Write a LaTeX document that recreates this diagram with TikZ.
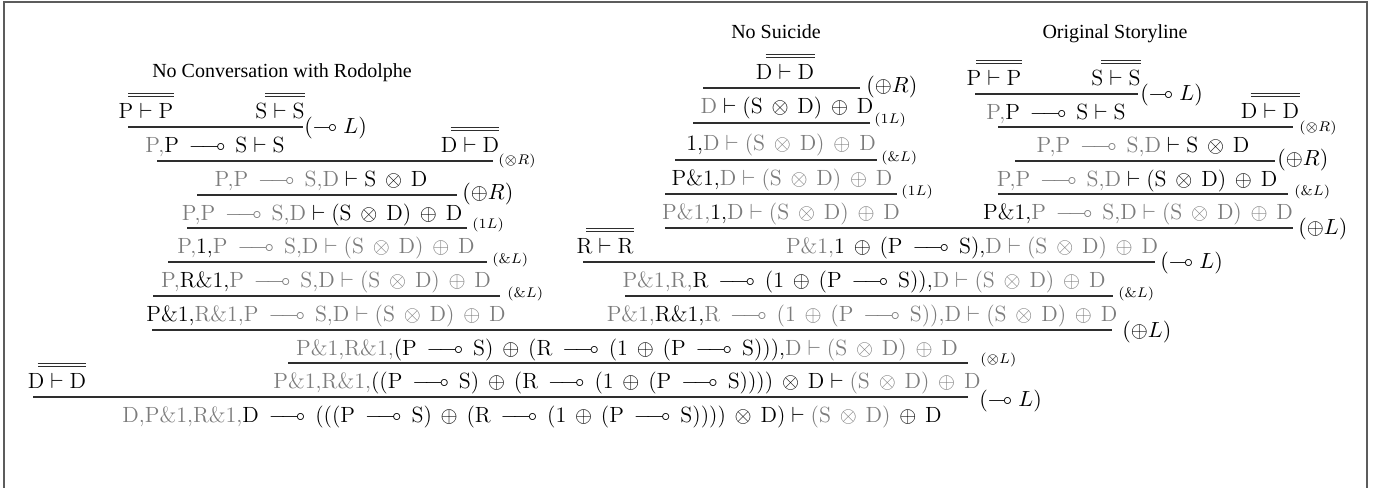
\documentclass[tikz,border=0pt]{standalone}
\usepackage{amsmath,amssymb}
\usepackage{fontspec}
\newfontfamily\titlefont{Liberation Serif}
\usepackage{tikz}
\usetikzlibrary{positioning}
\definecolor{seqgray}{HTML}{7C7C7C}
\definecolor{framegray}{HTML}{5C5C5C}
\definecolor{bardark}{HTML}{2E2E2E}
\newcommand{\fd}[1]{\textcolor{seqgray}{#1}}
% connectives with the spacing of the picture
\newcommand{\lolli}{\hspace{0.45em}$\mathrel{\relbar\mkern-4mu\multimap}$\hspace{0.45em}}
\newcommand{\tensor}{\hspace{0.4em}$\otimes$\hspace{0.4em}}
\newcommand{\oplusop}{\hspace{0.4em}$\oplus$\hspace{0.4em}}
\newcommand{\entails}{\hspace{0.27em}$\vdash$\hspace{0.27em}}
\tikzset{
	seq/.style={anchor=base, inner sep=0pt, font=\fontsize{11}{13}\selectfont},
	rname/.style={anchor=west, inner sep=0pt, font=\fontsize{11}{13}\selectfont},
	rsmall/.style={anchor=west, inner sep=0pt, font=\scriptsize},
	infer/.style={draw=bardark, line width=0.7pt},
	axbar/.style={draw=bardark, double=white, line width=0.4pt, double distance=1.1pt},
	title/.style={anchor=base, inner sep=0pt, font=\titlefont}
}

\begin{document}
\begin{tikzpicture}[x=0.5pt, y=-0.5pt]
	\useasboundingbox (0,0) rectangle (1379,487);
	% frame
	\draw[framegray, line width=1pt] (4,500) -- (4,1.5) -- (1367,1.5) -- (1367,500);
	% titles
	\node[title] (tconv) at (282,77) {No Conversation with Rodolphe};
	\node[title] (tsuic) at (776,38) {No Suicide};
	\node[title] (torig) at (1115,38) {Original Storyline};

	% left tree: no conversation
	\node[seq] (lpp) at (146,118) {P\entails P};
	\node[seq] (lss) at (280,118) {S\entails S};
	\draw[axbar] ([xshift=5pt,yshift=11.5pt]lpp.base west) -- ([yshift=11.5pt]lpp.base east);
	\draw[axbar] ([xshift=5pt,yshift=11.5pt]lss.base west) -- ([yshift=11.5pt]lss.base east);
	\draw[infer] (128,127) -- (303,127);
	\node[rname] (lr1) at (304,128) {$(\multimap L)$};
	\node[seq] (lpps) at (215,152) {\fd{P,}P\lolli S\entails S};
	\node[seq] (ldd) at (470,152) {D\entails D};
	\draw[axbar] ([xshift=5pt,yshift=11.5pt]ldd.base west) -- ([yshift=11.5pt]ldd.base east);
	\draw[infer] (157,161) -- (493,161);
	\node[rsmall] (lr2) at (498,161) {$(\otimes R)$};
	\node[seq] (l3) at (321,186) {\fd{P,P\lolli S,D}\entails S\tensor D};
	\draw[infer] (197,195) -- (457,195);
	\node[rname] (lr3) at (462,194) {$(\oplus R)$};
	\node[seq] (l4) at (322,220) {\fd{P,P\lolli S,D}\entails (S\tensor D)\oplusop D};
	\draw[infer] (187,228) -- (467,228);
	\node[rsmall] (lr4) at (472,225) {$(1 L)$};
	\node[seq] (l5) at (326,253) {\fd{P,}1,\fd{P\lolli S,D\entails (S\tensor D)\oplusop D}};
	\draw[infer] (168,262) -- (487,262);
	\node[rsmall] (lr5) at (492,260) {$(\& L)$};
	\node[seq] (l6) at (326,287) {\fd{P,}R\&1,\fd{P\lolli S,D\entails (S\tensor D)\oplusop D}};
	\draw[infer] (153,296) -- (500,296);
	\node[rsmall] (lr6) at (507,294) {$(\& L)$};
	\node[seq] (l7) at (326,321) {P\&1,\fd{R\&1,P\lolli S,D\entails (S\tensor D)\oplusop D}};

	% middle tree: no suicide
	\node[seq] (mdd) at (785,79) {D\entails D};
	\draw[axbar] ([xshift=5pt,yshift=11.5pt]mdd.base west) -- ([yshift=11.5pt]mdd.base east);
	\draw[infer] (703,88) -- (860,88);
	\node[rname] (mr1) at (866,87) {$(\oplus R)$};
	\node[seq] (m2) at (787,113) {\fd{D}\entails (S\tensor D)\oplusop D};
	\draw[infer] (693,123) -- (870,123);
	\node[rsmall] (mr2) at (874,120) {$(1 L)$};
	\node[seq] (m3) at (781,150) {1,\fd{D\entails (S\tensor D)\oplusop D}};
	\draw[infer] (675,160) -- (877,160);
	\node[rsmall] (mr3) at (881,158) {$(\& L)$};
	\node[seq] (m4) at (782,185) {P\&1,\fd{D\entails (S\tensor D)\oplusop D}};
	\draw[infer] (665,194) -- (897,194);
	\node[rsmall] (mr4) at (901,192) {$(1 L)$};
	\node[seq] (m5) at (781,219) {\fd{P\&1,}1,\fd{D\entails (S\tensor D)\oplusop D}};

	% right tree: original storyline
	\node[seq] (rpp) at (994,85) {P\entails P};
	\node[seq] (rss) at (1116,85) {S\entails S};
	\draw[axbar] ([xshift=5pt,yshift=11.5pt]rpp.base west) -- ([yshift=11.5pt]rpp.base east);
	\draw[axbar] ([xshift=5pt,yshift=11.5pt]rss.base west) -- ([yshift=11.5pt]rss.base east);
	\draw[infer] (975,94) -- (1138,94);
	\node[rname] (rr1) at (1140,95) {$(\multimap L)$};
	\node[seq] (rpps) at (1056,119) {\fd{P,}P\lolli S\entails S};
	\node[seq] (rdd) at (1270,118) {D\entails D};
	\draw[axbar] ([xshift=5pt,yshift=11.5pt]rdd.base west) -- ([yshift=11.5pt]rdd.base east);
	\draw[infer] (998,127) -- (1293,127);
	\node[rsmall] (rr2) at (1299,128) {$(\otimes R)$};
	\node[seq] (r3) at (1143,152) {\fd{P,P\lolli S,D}\entails S\tensor D};
	\draw[infer] (1015,161) -- (1275,161);
	\node[rname] (rr3) at (1277,160) {$(\oplus R)$};
	\node[seq] (r4) at (1137,186) {\fd{P,P\lolli S,D}\entails (S\tensor D)\oplusop D};
	\draw[infer] (998,194) -- (1288,194);
	\node[rsmall] (rr4) at (1294,192) {$(\& L)$};
	\node[seq] (r5) at (1138,219) {P\&1,\fd{P\lolli S,D\entails (S\tensor D)\oplusop D}};

	% joining the two right trees
	\draw[infer] (665,228) -- (1293,228);
	\node[rname] (cr1) at (1298,229) {$(\oplus L)$};
	\node[seq] (rr) at (605,253) {R\entails R};
	\draw[axbar] ([xshift=5pt,yshift=11.5pt]rr.base west) -- ([yshift=11.5pt]rr.base east);
	\node[seq] (c1) at (972,253) {\fd{P\&1,}1\oplusop (P\lolli S),\fd{D\entails (S\tensor D)\oplusop D}};
	\draw[infer] (583,262) -- (1155,262);
	\node[rname] (cr2) at (1160,263) {$(\multimap L)$};
	\node[seq] (c2) at (864,287) {\fd{P\&1,R,}R\lolli (1\oplusop (P\lolli S)),\fd{D\entails (S\tensor D)\oplusop D}};
	\draw[infer] (625,296) -- (1113,296);
	\node[rsmall] (cr3) at (1118,294) {$(\& L)$};
	\node[seq] (c3) at (862,321) {\fd{P\&1,}R\&1,\fd{R\lolli (1\oplusop (P\lolli S)),D\entails (S\tensor D)\oplusop D}};

	% joining everything
	\draw[infer] (152,330) -- (1112,330);
	\node[rname] (br1) at (1122,332) {$(\oplus L)$};
	\node[seq] (b1) at (627,355) {\fd{P\&1,R\&1,}(P\lolli S)\oplusop (R\lolli (1\oplusop (P\lolli S))),\fd{D\entails (S\tensor D)\oplusop D}};
	\draw[infer] (288,363) -- (968,363);
	\node[rsmall] (br2) at (980,360) {$(\otimes L)$};
	\node[seq] (b2) at (627,388) {\fd{P\&1,R\&1,}((P\lolli S)\oplusop (R\lolli (1\oplusop (P\lolli S))))\tensor D\entails \fd{(S\tensor D)\oplusop D}};
	\node[seq] (bdd) at (57,388) {D\entails D};
	\draw[axbar] ([xshift=5pt,yshift=11.5pt]bdd.base west) -- ([yshift=11.5pt]bdd.base east);
	\draw[infer] (33,397) -- (968,397);
	\node[rname] (br3) at (979,401) {$(\multimap L)$};
	\node[seq] (b3) at (532,422) {\fd{D,P\&1,R\&1,}D\lolli (((P\lolli S)\oplusop (R\lolli (1\oplusop (P\lolli S))))\tensor D)\entails \fd{(S\tensor D)}\oplusop D};
\end{tikzpicture}
\end{document}
